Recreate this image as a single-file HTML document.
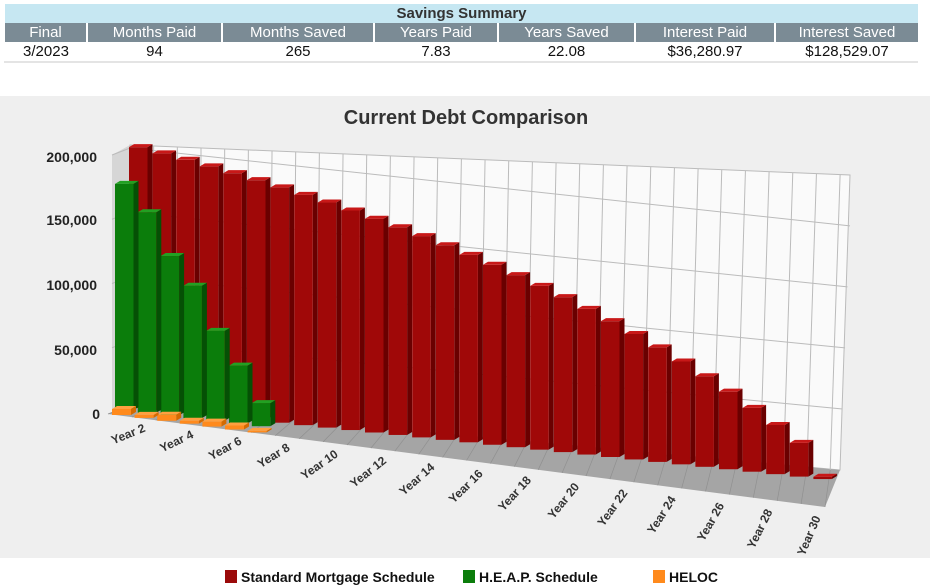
<!DOCTYPE html>
<html><head><meta charset="utf-8"><style>
body{margin:0;width:934px;height:588px;background:#fff;font-family:"Liberation Sans",Arial,sans-serif;overflow:hidden;position:relative}
table{position:absolute;left:4px;top:4px;width:914px;border-collapse:collapse;font-size:15px}
td{text-align:center;padding:0;height:19px}
.h1 td{background:#c6e7f2;font-weight:bold;color:#333}
.h2 td{background:#7b8b95;color:#fff;border-left:2px solid #fff}
.h2 td:first-child{border-left:none}
.d td{border-bottom:2px solid #e4e4e4;color:#111;border-left:2px solid #fff}
</style></head><body>
<table>
<tr class="h1"><td colspan="7">Savings Summary</td></tr>
<tr class="h2"><td style="width:81px">Final</td><td style="width:133px">Months Paid</td><td style="width:150px">Months Saved</td><td style="width:122px">Years Paid</td><td style="width:135px">Years Saved</td><td style="width:138px">Interest Paid</td><td>Interest Saved</td></tr>
<tr class="d"><td>3/2023</td><td>94</td><td>265</td><td>7.83</td><td>22.08</td><td>$36,280.97</td><td>$128,529.07</td></tr>
</table>
<svg id="s" width="934" height="588" style="position:absolute;left:0;top:0"></svg>
<script>
const S=document.getElementById('s');let h='';
h+='<rect x="0" y="96" width="930" height="462" fill="#efefef"/>';
h+='<text x="466" y="124" text-anchor="middle" font-size="20" font-weight="bold" fill="#333">Current Debt Comparison</text>';
const k=1.285;
h+='<polygon points="112,155 130,145 130,405 112,412" fill="#d6d6d6"/>';
h+='<polygon points="130,145 850,175 840,470 130,405" fill="#fafafa" stroke="#bbb" stroke-width="1"/>';
h+='<polygon points="108,414 130,405 840,470 825,507" fill="#a5a5a5"/>';
for(let v=50;v<=200;v+=50){const yl=405-v*k,yr=470-v*k*0.95;h+=`<line x1="130" y1="${yl}" x2="${840+v*0.05}" y2="${yr}" stroke="#bbb"/>`;h+=`<line x1="112" y1="${412-v*k}" x2="130" y2="${yl}" stroke="#bbb"/>`;}
for(let i=0;i<=30;i++){const x=130+i*23.67,yb=405+i*2.17,yt=145+i*1.0;h+=`<line x1="${x}" y1="${yt}" x2="${x-i*0.33}" y2="${yb}" stroke="#bbb"/>`;
 h+=`<line x1="${x-i*0.33}" y1="${yb}" x2="${108+i*23.9}" y2="${414+i*3.1}" stroke="#909090" stroke-width="0.7"/>`;}
const labels=[[200000,157],[150000,220],[100000,285],[50000,350],[0,414]];
labels.forEach(([v,y])=>h+=`<text x="${v?97:100}" y="${y+5}" text-anchor="end" font-size="14" font-weight="bold" fill="#222">${v.toLocaleString('en-US')}</text>`);
function bar(x,yb,H,w,c1,c2,c3){const dx=5,dy=-3;
 h+=`<polygon points="${x+w},${yb} ${x+w+dx},${yb+dy} ${x+w+dx},${yb+dy-H} ${x+w},${yb-H}" fill="${c2}"/>`;
 h+=`<rect x="${x}" y="${yb-H}" width="${w}" height="${H}" fill="${c1}"/>`;
 h+=`<polygon points="${x},${yb-H} ${x+dx},${yb-H+dy} ${x+w+dx},${yb-H+dy} ${x+w},${yb-H}" fill="${c3}"/>`;}
const r=0.07,n=31,p=Math.pow(1+r,n);
for(let i=29;i>=0;i--){let f=(p-Math.pow(1+r,i+1))/(p-1);let v=203*f/((p-Math.pow(1+r,1))/(p-1));if(i==29)v=2;
 const x=129+i*23.6,yb=408+i*2.45;bar(x,yb,v*k*(1-i*0.004),18.5,'#a00808','#6a0000','#c81818');}
const g=[176,156,124,103,70,45,18];
for(let i=6;i>=0;i--){const x=115+i*22.8,yb=410+i*2.7;bar(x,yb,g[i]*k,18.5,'#0b7d0b','#055005','#22a022');}
const o=[6,3,6,3,5,4,1.5];
for(let i=6;i>=0;i--){const x=112+i*22.6,yb=415+i*2.9;bar(x,yb,o[i],19,'#ff8a1c','#d46a00','#ffa040');}
for(let j=1;j<=15;j++){const yr=2*j,i=yr-1;const x=122+i*24.1,y=428+i*3.1;const a=-22-(j-1)*3.2;
 h+=`<text transform="translate(${x},${y}) rotate(${a})" text-anchor="end" font-size="12" font-weight="bold" fill="#333">Year ${yr}</text>`;}
[[225,'#9b0a0a','Standard Mortgage Schedule'],[463,'#0b7d0b','H.E.A.P. Schedule'],[653,'#ff8a1c','HELOC']].forEach(([x,c,t])=>{
 h+=`<rect x="${x}" y="570" width="12" height="13" fill="${c}"/><text x="${x+16}" y="582" font-size="14" font-weight="bold" fill="#111">${t}</text>`;});
S.innerHTML=h;
</script>
</body></html>
